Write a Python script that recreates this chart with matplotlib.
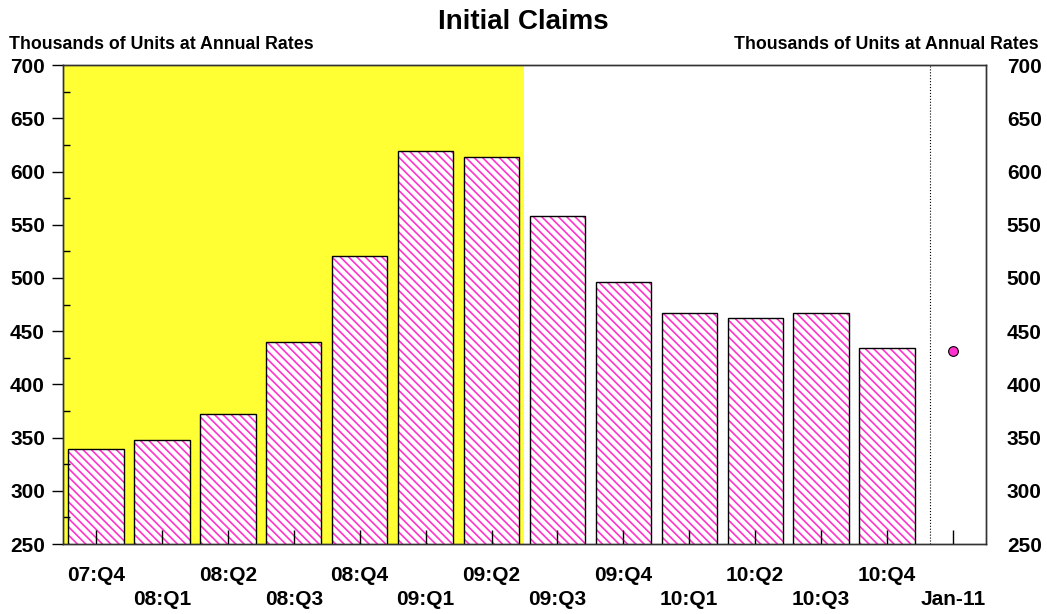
import numpy as np
import matplotlib
matplotlib.use("Agg")
import matplotlib.pyplot as plt
from matplotlib.ticker import MultipleLocator

plt.rcParams['font.family'] = ['Liberation Sans', 'DejaVu Sans']
plt.rcParams['font.weight'] = 'bold'
plt.rcParams['hatch.linewidth'] = 1.2

quarters = ['07:Q4', '08:Q1', '08:Q2', '08:Q3', '08:Q4', '09:Q1', '09:Q2',
            '09:Q3', '09:Q4', '10:Q1', '10:Q2', '10:Q3', '10:Q4']
claims = [339, 348, 372, 440, 521, 619, 614, 558, 496, 467, 462, 467, 434]
month_label = 'Jan-11'
month_value = 431

labels = quarters + [month_label]
x = np.arange(len(labels))
pink = '#ff33cc'

fig = plt.figure(figsize=(10.47, 6.14), dpi=100)
ax = fig.add_axes([0.0602, 0.114, 0.8815, 0.780])

# recession shading
ax.axvspan(-0.5, 6.5, color='#ffff33', zorder=0, lw=0)

# hatched fill, then black outline on top
ax.bar(x[:-1], claims, width=0.84, facecolor='white', edgecolor=pink,
       linewidth=0, hatch='\\\\\\\\', zorder=2)
ax.bar(x[:-1], claims, width=0.84, fill=False, edgecolor='black',
       linewidth=1.0, zorder=2.1)
ax.plot(x[-1], month_value, 'o', color=pink, markeredgecolor='black',
        markersize=7, markeredgewidth=0.8, zorder=3)
ax.axvline(12.65, color='black', ls=':', lw=0.8, zorder=1)

ax.set_xlim(-0.5, 13.5)
ax.set_ylim(250, 700)
ax.set_axisbelow(False)

ax.yaxis.set_major_locator(MultipleLocator(50))
ax.yaxis.set_minor_locator(MultipleLocator(25))
ax.tick_params(axis='y', which='major', direction='out', length=8, width=1,
               labelsize=15, pad=5)
ax.tick_params(axis='y', which='minor', direction='in', length=5, width=1)
ax.tick_params(axis='x', direction='in', length=10, width=1, pad=16)

ax.set_xticks(x)
ax.set_xticklabels([l if i % 2 == 0 else '\n' + l for i, l in enumerate(labels)],
                   fontsize=15, linespacing=1.35)

ax2 = ax.twinx()
ax2.set_ylim(250, 700)
ax2.yaxis.set_major_locator(MultipleLocator(50))
ax2.tick_params(axis='y', length=0, labelsize=15, pad=15)

for a in (ax, ax2):
    for s in a.spines.values():
        s.set_linewidth(1.0)
        s.set_color('#333333')

fig.text(0.5, 0.986, 'Initial Claims', ha='center', va='top', fontsize=20,
         fontweight='bold')
fig.text(0.009, 0.914, 'Thousands of Units at Annual Rates', ha='left',
         va='bottom', fontsize=12.8, fontweight='bold')
fig.text(0.992, 0.914, 'Thousands of Units at Annual Rates', ha='right',
         va='bottom', fontsize=12.8, fontweight='bold')

fig.savefig('out.png', dpi=100)
